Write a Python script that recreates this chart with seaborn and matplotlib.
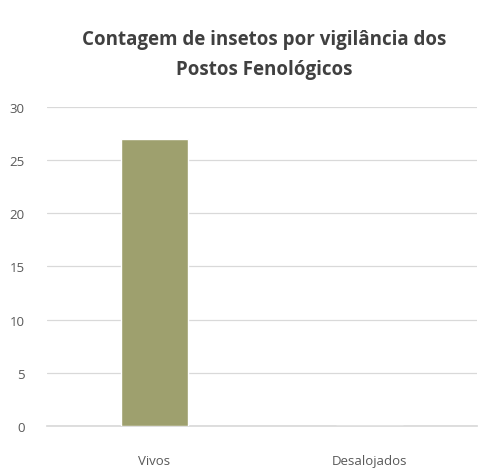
import matplotlib
matplotlib.use("Agg")
import matplotlib.pyplot as plt
import seaborn as sns
import pandas as pd

categories = ["Vivos", "Desalojados"]
counts = [27, 0]
y_ticks = [0, 5, 10, 15, 20, 25, 30]
title = "Contagem de insetos por vigilância dos\nPostos Fenológicos"

sns.set_theme(style="white")
plt.rcParams["font.family"] = ["Open Sans", "DejaVu Sans"]

df = pd.DataFrame({"categoria": categories, "contagem": counts})

fig = plt.figure(figsize=(4.94, 4.77), dpi=100)
ax = fig.add_axes([0.095, 0.105, 0.871, 0.669])

sns.barplot(data=df, x="categoria", y="contagem", color="#9ea06e",
            width=0.31, saturation=1, ax=ax, zorder=3)

ax.set_ylim(0, 30)
ax.set_yticks(y_ticks)
ax.yaxis.grid(True, color="#d9d9d9", linewidth=0.9, zorder=0)
ax.set_xlabel("")
ax.set_ylabel("")
for s in ax.spines.values():
    s.set_visible(False)
ax.spines["bottom"].set_visible(True)
ax.spines["bottom"].set_color("#d9d9d9")
ax.tick_params(axis="both", labelsize=9.5, colors="#595959", length=0)
ax.tick_params(axis="y", pad=16)
ax.tick_params(axis="x", pad=20)

fig.text(0.535, 0.885, title, ha="center", va="center", fontsize=13.5,
         fontweight="bold", color="#404040", linespacing=1.65)

fig.savefig("out.png", dpi=100, facecolor="white")
